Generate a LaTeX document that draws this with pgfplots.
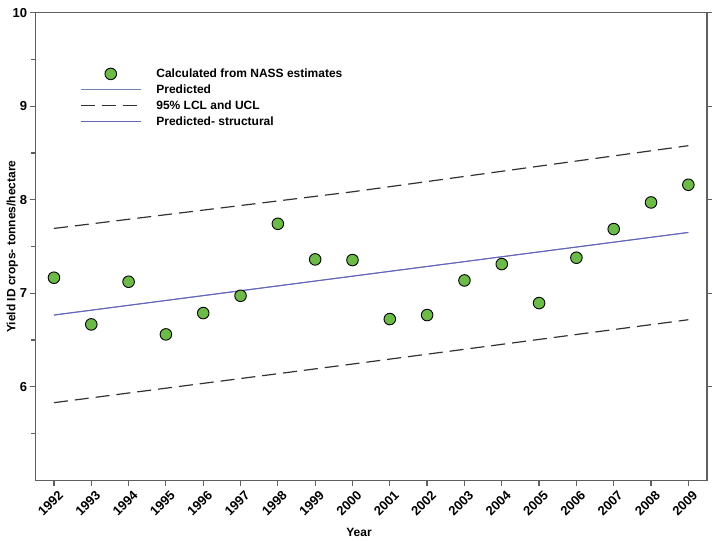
\documentclass[border=0pt]{standalone}
\usepackage{pgfplots}
\pgfplotsset{compat=1.18}
\usepackage{fontspec}
\setmainfont{Liberation Sans}
\definecolor{ptgreen}{RGB}{108,186,72}
\definecolor{predblue}{RGB}{112,132,178}
\definecolor{structblue}{RGB}{100,100,190}
\definecolor{axgray}{RGB}{95,95,95}
\definecolor{dashgray}{RGB}{50,50,50}
\begin{document}
\begin{tikzpicture}
\begin{axis}[
 at={(0,0)}, anchor=south west,
 scale only axis, width=671.7pt, height=467.6pt,
 xmin=1991.5, xmax=2009.5, ymin=5, ymax=10,
 axis line style={axgray, line width=1.4pt},
 xtick={1992,...,2009},
 ytick={6,7,8,9,10},
 minor ytick={5.5,6.5,7.5,8.5,9.5},
 xtick pos=bottom, ytick pos=left,
 tick align=outside,
 major tick length=5.5pt, minor tick length=4pt,
 every tick/.style={axgray, line width=1.2pt},
 extra y ticks={6,7,8,9,10},
 extra y tick labels={},
 extra y tick style={ytick pos=right, tick align=outside},
 /pgf/number format/assume math mode=true,
 /pgf/number format/1000 sep={},
 ticklabel style={font=\fontsize{13}{15}\selectfont\bfseries},
 x tick label style={rotate=45, anchor=north east, inner sep=0pt, yshift=-5pt},
 y tick label style={inner sep=2.5pt},
 xlabel={Year}, ylabel={Yield ID crops- tonnes/hectare},
 label style={font=\fontsize{12}{14}\selectfont\bfseries},
 xlabel style={at={(axis description cs:0.482,0)}, anchor=center, yshift=-52pt},
 ylabel style={at={(axis description cs:0,0.5)}, anchor=center, yshift=23pt},
 legend image code/.code={\draw[mark repeat=2,mark phase=2,#1] plot coordinates {(0pt,0pt) (30pt,0pt) (60pt,0pt)};},
 legend style={draw=none, fill=none, at={(axis description cs:0.062,0.889)}, anchor=north west,
   font=\fontsize{12}{14}\selectfont\bfseries, row sep=1.8pt, column sep=13pt},
 legend cell align=left,
]
\addplot[only marks, mark=*, mark size=5.8pt, mark options={fill=ptgreen, draw=black, line width=0.9pt}]
 coordinates {
 (1992,7.166) (1993,6.667) (1994,7.123) (1995,6.560) (1996,6.788) (1997,6.973)
 (1998,7.743) (1999,7.362) (2000,7.355) (2001,6.724) (2002,6.767) (2003,7.137)
 (2004,7.312) (2005,6.895) (2006,7.380) (2007,7.686) (2008,7.971) (2009,8.160)
 };
\addlegendentry{Calculated from NASS estimates}
\addplot[predblue, line width=1pt] coordinates {(1992,6.767) (2009,7.650)};
\addlegendentry{Predicted}
\addplot[dashgray, line width=1.2pt, dash pattern=on 14pt off 7pt] coordinates {(1992,7.693) (2000,8.085) (2009,8.578)};
\addlegendentry{95\% LCL and UCL}
\addplot[structblue, line width=1pt] coordinates {(1992,6.767) (2009,7.650)};
\addlegendentry{Predicted- structural}
\addplot[dashgray, line width=1.2pt, dash pattern=on 14pt off 7pt, forget plot] coordinates {(1992,5.830) (2000,6.243) (2009,6.717)};
\end{axis}
\pgfresetboundingbox
\path (-35.3pt,-59.7pt) rectangle (683.7pt,480.3pt);
\end{tikzpicture}
\end{document}
